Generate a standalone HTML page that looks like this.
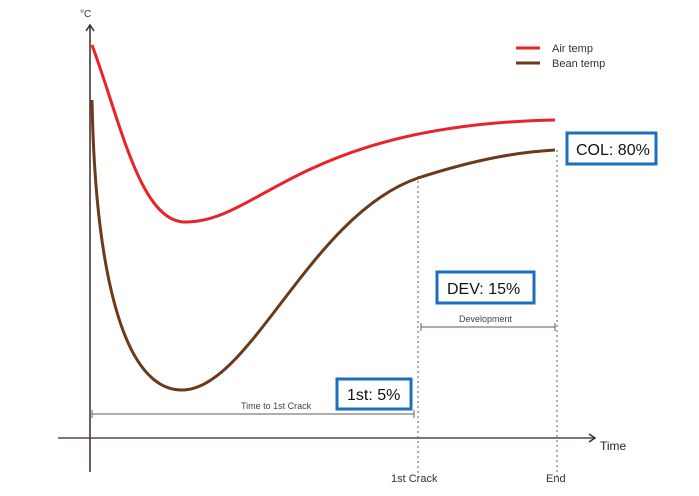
<!DOCTYPE html>
<html><head><style>
body{margin:0;background:#fff;width:699px;height:496px;overflow:hidden}
svg{display:block;font-family:"Liberation Sans",sans-serif}
.box{fill:#fff;stroke:#1a6fc0;stroke-width:3}
.bt{font-size:16px;fill:#111}
</style></head><body>
<svg width="699" height="496" viewBox="0 0 699 496">
<text x="80" y="17" font-size="10" fill="#333">°C</text>
<line x1="90" y1="472" x2="90" y2="25" stroke="#3a2a22" stroke-width="1.5"/>
<polyline points="86,31 90,25 94,31" fill="none" stroke="#3a2a22" stroke-width="1.5"/>
<line x1="58" y1="438" x2="595" y2="438" stroke="#5a4840" stroke-width="1.5"/>
<polyline points="589,434 595,438 589,442" fill="none" stroke="#3a2a22" stroke-width="1.5"/>
<text x="600" y="450" font-size="12" fill="#222">Time</text>
<line x1="418" y1="176" x2="418" y2="480" stroke="#6a5a55" stroke-width="1" stroke-dasharray="2,3"/>
<line x1="557" y1="150" x2="557" y2="480" stroke="#6a5a55" stroke-width="1" stroke-dasharray="2,3"/>
<text x="391" y="482" font-size="11" fill="#333">1st Crack</text>
<text x="546" y="482" font-size="11" fill="#333">End</text>
<path d="M92,45 C120,120 140,222 185,222 C260,222 300,125 555,120" fill="none" stroke="#e8232a" stroke-width="3"/>
<path d="M92,100 C95,260 120,390 182,390 C250,390 310,215 418,178 C480,158 520,152 555,150" fill="none" stroke="#6b3a1a" stroke-width="3"/>
<line x1="516" y1="48" x2="540" y2="48" stroke="#e8232a" stroke-width="3"/>
<line x1="516" y1="63" x2="540" y2="63" stroke="#6b3a1a" stroke-width="3"/>
<text x="552" y="52" font-size="11" fill="#333">Air temp</text>
<text x="552" y="67" font-size="11" fill="#333">Bean temp</text>
<line x1="92" y1="414" x2="414" y2="414" stroke="#6a5a55"/>
<line x1="92" y1="410" x2="92" y2="418" stroke="#6a5a55"/>
<line x1="414" y1="410" x2="414" y2="418" stroke="#6a5a55"/>
<text x="241" y="409" font-size="9" fill="#444">Time to 1st Crack</text>
<line x1="421" y1="327" x2="555" y2="327" stroke="#6a5a55"/>
<line x1="421" y1="323" x2="421" y2="331" stroke="#6a5a55"/>
<line x1="555" y1="323" x2="555" y2="331" stroke="#6a5a55"/>
<text x="459" y="322" font-size="9" fill="#444">Development</text>
<rect class="box" x="437" y="272" width="97" height="31"/>
<text class="bt" x="447" y="294">DEV: 15%</text>
<rect class="box" x="337" y="379" width="74" height="30"/>
<text class="bt" x="347" y="400">1st: 5%</text>
<rect class="box" x="567" y="133" width="89" height="31"/>
<text class="bt" x="576" y="155">COL: 80%</text>
</svg>
</body></html>
